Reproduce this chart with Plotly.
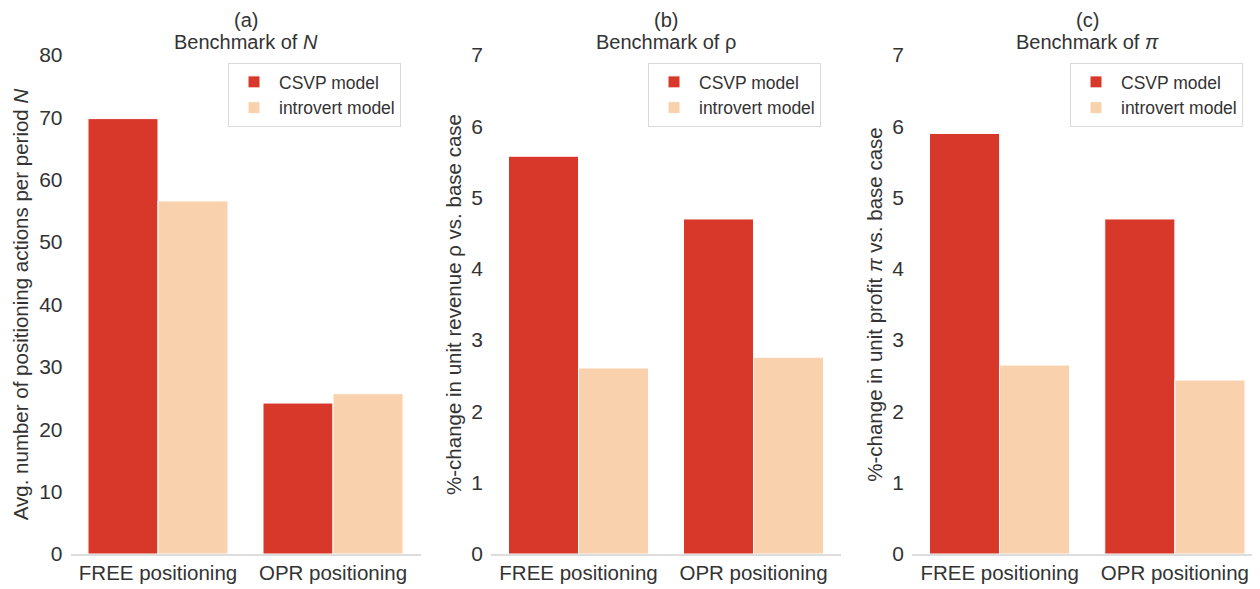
import plotly.graph_objects as go

categories = ["FREE positioning", "OPR positioning"]
series_names = ["CSVP model", "introvert model"]
colors = ["#d7382a", "#f9d2ad"]

N_csvp = [69.8, 24.2]
N_intro = [56.6, 25.7]
rho_csvp = [5.58, 4.70]
rho_intro = [2.61, 2.76]
pi_csvp = [5.90, 4.70]
pi_intro = [2.65, 2.44]

panel_letters = ["(a)", "(b)", "(c)"]
panel_titles = ["Benchmark of <i>N</i>", "Benchmark of ρ", "Benchmark of <i>π</i>"]
y_titles = [
    "Avg. number of positioning actions per period <i>N</i>",
    "%-change in unit revenue ρ vs. base case",
    "%-change in unit profit <i>π</i> vs. base case",
]
y_ranges = [[0, 80], [0, 7]]
y_ticks = [list(range(0, 81, 10)), list(range(0, 8))]

# page body has an 8px margin: figure occupies window pixels 8..1260, 8..589
OFF = 8
W, H = 1260 - OFF, 589 - OFF
x_domains_px = [(70.5, 420.5), (491, 841), (912, 1260)]
y_px = (55, 554)
y_dom = [(H - (y_px[1] - OFF)) / H, (H - (y_px[0] - OFF)) / H]

font_family = "Liberation Sans, Arial, sans-serif"
txt_color = "#333333"

data_sets = [(N_csvp, N_intro), (rho_csvp, rho_intro), (pi_csvp, pi_intro)]

fig = go.Figure()
legend_names = ["legend", "legend2", "legend3"]
for i, (csvp, intro) in enumerate(data_sets):
    sfx = "" if i == 0 else str(i + 1)
    for j, vals in enumerate([csvp, intro]):
        fig.add_trace(go.Bar(
            x=categories, y=vals, name=series_names[j],
            marker=dict(color=colors[j], line=dict(color="white", width=1)),
            xaxis="x" + sfx, yaxis="y" + sfx,
            legend=legend_names[i], offsetgroup=str(j),
        ))

layout = dict(
    width=W, height=H,
    margin=dict(l=0, r=0, t=0, b=0, autoexpand=False),
    paper_bgcolor="white", plot_bgcolor="white",
    barmode="group", bargap=0.2, bargroupgap=0,
    font=dict(family=font_family, color=txt_color, size=20),
    showlegend=True,
)

legend_x_px = [228, 648, 1070]
annotations = []
for i in range(3):
    sfx = "" if i == 0 else str(i + 1)
    x0, x1 = x_domains_px[i]
    xr_max = 1.5 if i < 2 else 1.5 - (1262.5 - x1) / 175
    layout["xaxis" + sfx] = dict(
        domain=[(x0 - OFF) / W, min((x1 - OFF) / W, 1.0)], anchor="y" + sfx, automargin=False,
        showgrid=False, zeroline=False, showline=True, linecolor="#dddddd", linewidth=1.5,
        ticks="", tickfont=dict(size=20.5, color=txt_color),
        range=[-0.5, xr_max],
    )
    yr = y_ranges[0] if i == 0 else y_ranges[1]
    yt = y_ticks[0] if i == 0 else y_ticks[1]
    layout["yaxis" + sfx] = dict(
        domain=y_dom, anchor="x" + sfx, range=yr, tickvals=yt, automargin=False,
        showgrid=False, zeroline=False, showline=False, ticks="",
        ticklabelstandoff=7,
        tickfont=dict(size=21, color=txt_color),
        title=dict(text=y_titles[i], font=dict(size=20.5, color=txt_color), standoff=4),
    )
    lname = legend_names[i]
    layout[lname] = dict(
        x=(legend_x_px[i] - OFF) / W, y=(H - (63 - OFF)) / H, xanchor="left", yanchor="top",
        bgcolor="white", bordercolor="#d9d9d9", borderwidth=1,
        font=dict(size=17.5, color=txt_color), itemwidth=40,
        tracegroupgap=0,
    )
    cx = ((x0 + x1) / 2 if i < 2 else (912 + 1262.5) / 2) - OFF
    annotations.append(dict(text=panel_letters[i], x=cx / W, y=1.0, xref="paper", yref="paper",
                            xanchor="center", yanchor="top", showarrow=False, borderpad=0,
                            font=dict(size=20, color=txt_color)))
    annotations.append(dict(text=panel_titles[i], x=cx / W, y=(H - (30 - OFF)) / H, xref="paper", yref="paper",
                            xanchor="center", yanchor="top", showarrow=False, borderpad=0,
                            font=dict(size=20, color=txt_color)))
layout["annotations"] = annotations
fig.update_layout(**layout)
fig.write_html("out.html")
